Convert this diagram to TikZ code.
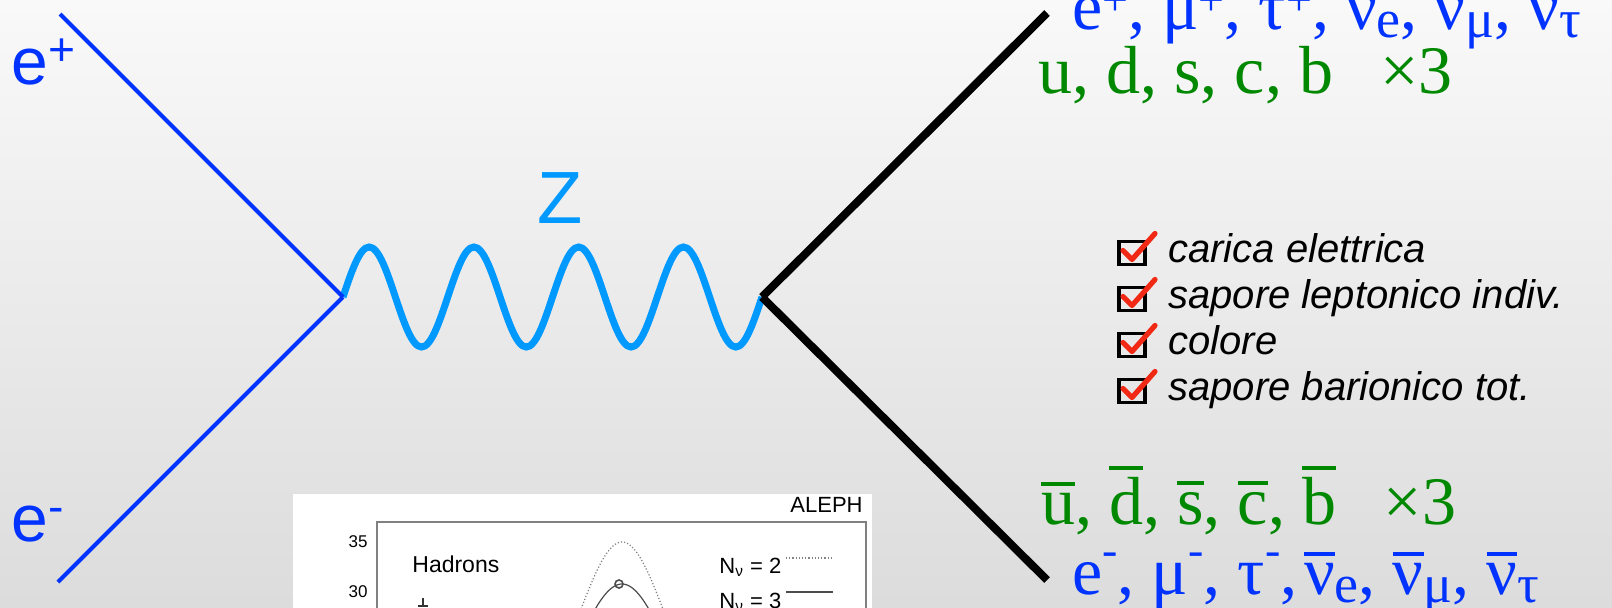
\documentclass[tikz,border=0pt]{standalone}
\usepackage{fontspec}
\usepackage{xcolor}
\setmainfont{Liberation Serif}
\newfontfamily\arial{Liberation Sans}

\definecolor{sfondoalto}{RGB}{249,249,249}
\definecolor{sfondobasso}{RGB}{220,220,220}
\definecolor{blu}{RGB}{0,51,255}
\definecolor{azzurro}{RGB}{0,153,255}
\definecolor{verde}{RGB}{0,136,0}
\definecolor{rosso}{RGB}{240,40,20}

% barra sopra (antiparticelle), apici e pedici
\newcommand\ovl[1]{\setbox0\hbox{#1}\rlap{\raisebox{\dimexpr\ht0+0.1em\relax}{\rule{\wd0}{0.06em}}}\box0}
\newcommand\apice[2][0.42em]{\raisebox{#1}{\fontsize{23}{23}\selectfont #2}}
\newcommand\pedice[1]{\raisebox{-0.12em}{\fontsize{27}{27}\selectfont #1}}

\begin{document}
\begin{tikzpicture}[x=0.5pt,y=-0.5pt,
	elettrone/.style={blu,line width=2pt},
	fermione/.style={black,line width=4pt},
	bosone/.style={azzurro,line width=3.5pt},
	etichetta/.style={blu,font=\arial\fontsize{33}{40}\selectfont,anchor=base west,inner sep=0pt},
	testo/.style={font=\fontsize{34}{40}\selectfont,anchor=base west,inner sep=0pt},
	voce/.style={font=\arial\itshape\fontsize{20}{24}\selectfont,anchor=base west,inner sep=0pt},
	casella/.style={draw=black,line width=1.7pt,minimum width=13pt,minimum height=11.5pt,inner sep=0pt},
	spunta/.style={rosso,line width=2.6pt,line cap=round,line join=round},
	piccolo/.style={font=\arial\fontsize{11}{13}\selectfont,inner sep=0pt},
	curvaNdue/.style={gray,densely dotted,line width=0.6pt},
	curvaNtre/.style={black!70,line width=0.6pt}]
	
	% Finestra
	\useasboundingbox (0,0) rectangle (1612,607);
	\clip (0,0) rectangle (1612,607);
	
	% Sfondo
	\shade[top color=sfondoalto,bottom color=sfondobasso] (0,0) rectangle (1612,607);
	
	% Vertici ed estremi
	\coordinate (vsx) at (343,297);
	\coordinate (vdx) at (762,297);
	\coordinate (epos) at (60,14);
	\coordinate (eneg) at (58,582);
	\coordinate (fsu) at (1047,13);
	\coordinate (fgiu) at (1047,580);
	
	% Propagatore Z (4 periodi)
	\draw[bosone] (vsx) \foreach \k in {1,...,4}{
		sin ++(26.1875,-50) cos ++(26.1875,50) sin ++(26.1875,50) cos ++(26.1875,-50)};
	\node[azzurro,font=\arial\fontsize{37}{44}\selectfont,inner sep=0pt] (zeta) at (560,198) {Z};
	
	% Linee fermioniche
	\draw[elettrone] (epos) -- (vsx);
	\draw[elettrone] (eneg) -- (vsx);
	\draw[fermione] (vdx) -- (fsu);
	\draw[fermione] (vdx) -- (fgiu);
	
	% Etichette
	\node[etichetta] (lpos) at (11,84) {e\textsuperscript{+}};
	\node[etichetta] (lneg) at (11,541) {e\textsuperscript{-}};
	
	\node[testo,blu] (leptoni) at (1072,29)
	{e\apice[0.2em]{+}, μ\apice[0.2em]{+}, τ\apice[0.2em]{+}, ν\pedice{e}, ν\pedice{μ}, ν\pedice{τ}};
	\node[testo,verde] (quark) at (1038,93) {u, d, s, c, b\hspace{0.7em}×3};
	\node[testo,verde] (antiquark) at (1041,524)
	{\ovl{u}, \ovl{d}, \ovl{s}, \ovl{c}, \ovl{b}\hspace{0.7em}×3};
	\node[testo,blu] (antileptoni) at (1072,594)
	{e\apice{-}, μ\apice{-}, τ\apice{-},\hspace{0.1em}\ovl{ν}\pedice{e}, \ovl{ν}\pedice{μ}, \ovl{ν}\pedice{τ}};
	
	% Numeri quantici conservati
	\foreach \voce [count=\i] in {carica elettrica, sapore leptonico indiv., colore, sapore barionico tot.}{
		\node[voce] (voce\i) at (1168,{262+46*(\i-1)}) {\voce};
		\node[casella] (casella\i) at (1132,{253+46*(\i-1)}) {};
		\draw[spunta] ([shift={(-9,-2.5)}]casella\i.center) -- ++(9,9) -- ++(23,-26);
	}
	
	% Inserto ALEPH
	\fill[white] (293,494) rectangle (872,615);
	\draw[gray,line width=0.8pt] (377,522) rectangle (866,640);
	\node[piccolo,anchor=base east] (aleph) at (863,512) {ALEPH};
	\node[piccolo,font=\arial\fontsize{8.5}{10}\selectfont] (t35) at (358,542) {35};
	\node[piccolo,font=\arial\fontsize{8.5}{10}\selectfont] (t30) at (358,592) {30};
	\node[piccolo,anchor=base west,font=\arial\fontsize{11.5}{14}\selectfont] (adroni) at (412,572) {Hadrons};
	\node[piccolo,anchor=base west] (nudue) at (719,573) {N\textsubscript{ν} = 2};
	\node[piccolo,anchor=base west] (nutre) at (719,608) {N\textsubscript{ν} = 3};
	\draw[curvaNdue] (786,558) -- (833,558);
	\draw[curvaNtre] (786,592) -- (833,592);
	
	% Curve di risonanza
	\draw[curvaNdue] plot[domain=570:675,samples=90] ({\x},{892-350/(1+((\x-622)/84)^2)});
	\draw[curvaNtre] plot[domain=570:675,samples=90] ({\x},{892-308/(1+((\x-622)/90)^2)});
	\draw[black!70,line width=0.8pt] (619,584) circle (4);
	\draw[black!80,line width=0.6pt] (423,598) -- (423,606);
	\draw[black!80,line width=0.6pt] (418,606) -- (428,606);
	
\end{tikzpicture}
\end{document}
